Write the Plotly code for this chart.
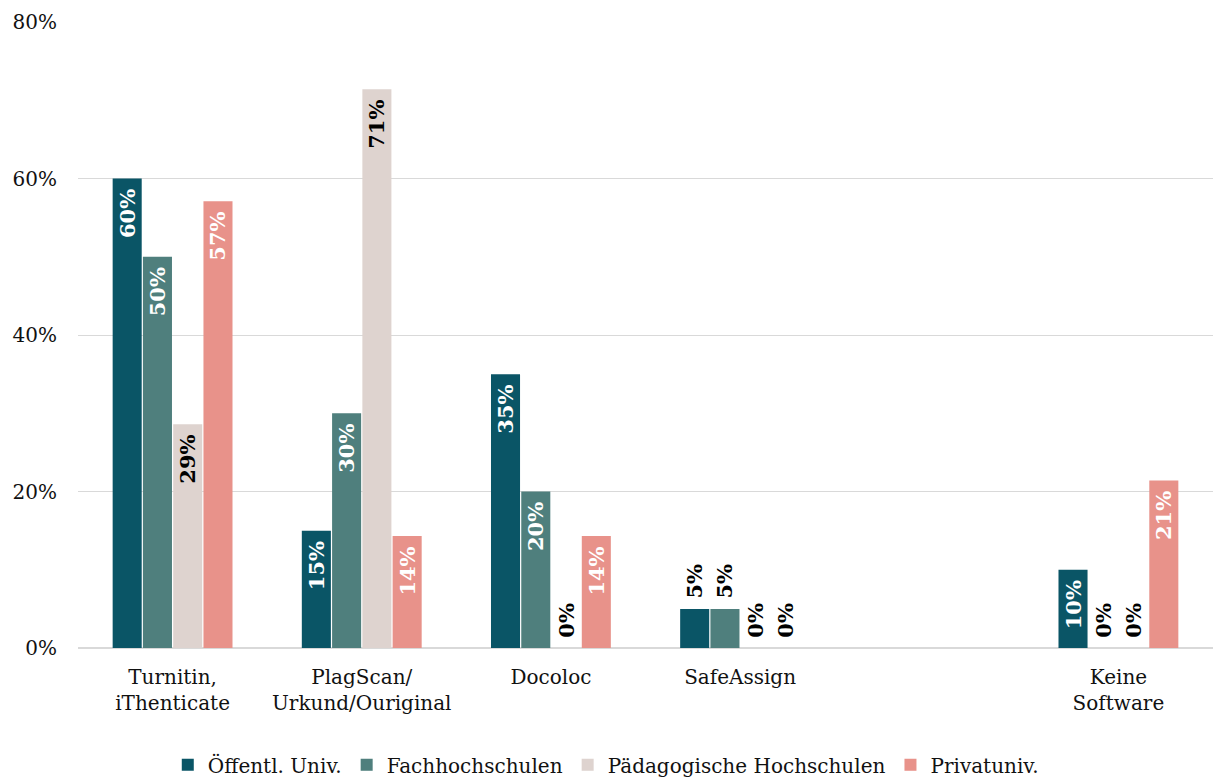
import plotly.graph_objects as go

categories = ['Turnitin,<br>iThenticate', 'PlagScan/<br>Urkund/Ouriginal', 'Docoloc',
              'SafeAssign', ' ', 'Keine<br>Software']
oeff_univ = [60, 15, 35, 5, None, 10]
fachhochschulen = [50, 30, 20, 5, None, 0]
paed_hochschulen = [28.6, 71.4, 0, 0, None, 0]
privatuniv = [57.1, 14.3, 14.3, 0, None, 21.4]

series = [
    ('Öffentl. Univ.', oeff_univ, '#0a5566', 'white'),
    ('Fachhochschulen', fachhochschulen, '#4f7f7d', 'white'),
    ('Pädagogische Hochschulen', paed_hochschulen, '#ded3cf', 'black'),
    ('Privatuniv.', privatuniv, '#e8928a', 'white'),
]

FONT = 'DejaVu Serif'
NBSP = '\u00a0'

fig = go.Figure()
for name, values, color, txtcolor in series:
    labels = []
    positions = []
    for v in values:
        if v is None:
            labels.append('')
            positions.append('none')
        elif v >= 10:
            # trailing space nudges the label down from the bar top
            labels.append(f'{round(v)}%{NBSP}')
            positions.append('inside')
        else:
            # leading space keeps small labels a little above the bar
            labels.append(f'{NBSP}{round(v)}%')
            positions.append('outside')
    fig.add_trace(go.Bar(
        x=categories, y=values, name=name,
        marker=dict(color=color, line=dict(width=0)),
        text=labels, textposition=positions, textangle=-90,
        insidetextanchor='end', cliponaxis=False, constraintext='none',
        insidetextfont=dict(family=FONT, size=21, color=txtcolor, weight='bold'),
        outsidetextfont=dict(family=FONT, size=21, color='black', weight='bold'),
    ))

fig.update_layout(
    width=1213, height=778,
    margin=dict(l=78, r=0, t=22, b=130),
    plot_bgcolor='white', paper_bgcolor='white',
    barmode='group', bargap=0.36, bargroupgap=0.04,
    font=dict(family=FONT, size=20, color='#111111'),
    showlegend=True,
    legend=dict(orientation='h', x=0.465, xanchor='center',
                yref='container', y=0.017, yanchor='middle',
                font=dict(family=FONT, size=20, color='#111111'),
                itemwidth=30, traceorder='normal'),
)
fig.update_yaxes(range=[0, 80], dtick=20, ticksuffix='%', showgrid=True, automargin=False,
                 gridcolor='#d9d9d9', gridwidth=1, zeroline=True, zerolinecolor='#d9d9d9',
                 ticks='', ticklabelstandoff=20, tickfont=dict(size=20))
fig.update_xaxes(showline=False, ticks='', automargin=False, ticklabelstandoff=15,
                 tickfont=dict(size=20))

fig.write_html('out.html', config={'displayModeBar': False},
               post_script="document.body.style.margin='0';")
